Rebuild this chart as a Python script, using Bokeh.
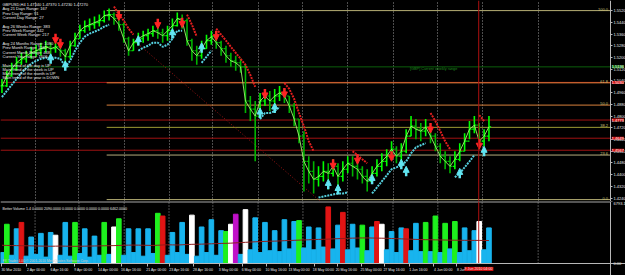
from bokeh.plotting import figure
from bokeh.models import (ColumnDataSource, FixedTicker, Span, Label, Range1d, LinearAxis,
                          Arrow, NormalHead)
from bokeh.layouts import column
from bokeh.embed import file_html
from bokeh.resources import INLINE
from bokeh.core.properties import value

# ---------------- data (GBPUSD, H4) ----------------
close = [1.5006, 1.5074, 1.5123, 1.5164, 1.5191, 1.5212, 1.5232, 1.5246, 1.5260, 1.5273,
         1.5260, 1.5273, 1.5246, 1.5205, 1.5280, 1.5328, 1.5383, 1.5411, 1.5424, 1.5438,
         1.5452, 1.5486, 1.5493, 1.5466, 1.5424, 1.5328, 1.5246, 1.5301, 1.5328, 1.5349,
         1.5363, 1.5383, 1.5369, 1.5349, 1.5383, 1.5417, 1.5466, 1.5452, 1.5315, 1.5246,
         1.5212, 1.5260, 1.5315, 1.5342, 1.5301, 1.5260, 1.5212, 1.5177, 1.5164, 1.5136,
         1.4903, 1.4848, 1.4800, 1.4903, 1.4937, 1.4903, 1.4937, 1.4958, 1.4937, 1.4869,
         1.4780, 1.4663, 1.4491, 1.4423, 1.4368, 1.4388, 1.4423, 1.4409, 1.4457, 1.4388,
         1.4437, 1.4478, 1.4457, 1.4437, 1.4388, 1.4354, 1.4409, 1.4457, 1.4491, 1.4526,
         1.4574, 1.4526, 1.4560, 1.4663, 1.4731, 1.4711, 1.4697, 1.4725, 1.4663, 1.4594,
         1.4526, 1.4491, 1.4457, 1.4505, 1.4560, 1.4629, 1.4711, 1.4738, 1.4629, 1.4663,
         1.4727]
high = [1.5054, 1.5109, 1.5164, 1.5205, 1.5232, 1.5246, 1.5273, 1.5287, 1.5301, 1.5315,
        1.5301, 1.5301, 1.5287, 1.5260, 1.5315, 1.5369, 1.5424, 1.5452, 1.5466, 1.5479,
        1.5493, 1.5520, 1.5534, 1.5507, 1.5466, 1.5438, 1.5342, 1.5328, 1.5369, 1.5383,
        1.5397, 1.5417, 1.5411, 1.5397, 1.5417, 1.5466, 1.5507, 1.5493, 1.5466, 1.5328,
        1.5280, 1.5315, 1.5356, 1.5383, 1.5356, 1.5315, 1.5280, 1.5232, 1.5212, 1.5191,
        1.5150, 1.4937, 1.4903, 1.4958, 1.4985, 1.4972, 1.4985, 1.5006, 1.4985, 1.4937,
        1.4889, 1.4780, 1.4697, 1.4526, 1.4491, 1.4457, 1.4491, 1.4478, 1.4505, 1.4478,
        1.4491, 1.4526, 1.4526, 1.4491, 1.4457, 1.4437, 1.4457, 1.4505, 1.4546, 1.4574,
        1.4629, 1.4594, 1.4615, 1.4711, 1.4800, 1.4780, 1.4752, 1.4780, 1.4731, 1.4683,
        1.4615, 1.4560, 1.4526, 1.4560, 1.4615, 1.4683, 1.4766, 1.4800, 1.4752, 1.4711,
        1.4800]
low = [1.4958, 1.4999, 1.5068, 1.5109, 1.5150, 1.5164, 1.5191, 1.5205, 1.5212, 1.5232,
       1.5212, 1.5232, 1.5205, 1.5143, 1.5191, 1.5273, 1.5328, 1.5369, 1.5383, 1.5397,
       1.5411, 1.5438, 1.5452, 1.5424, 1.5383, 1.5301, 1.5212, 1.5246, 1.5280, 1.5301,
       1.5315, 1.5342, 1.5328, 1.5301, 1.5315, 1.5369, 1.5411, 1.5397, 1.5280, 1.5177,
       1.5150, 1.5191, 1.5260, 1.5287, 1.5260, 1.5212, 1.5164, 1.5136, 1.5109, 1.5095,
       1.4821, 1.4766, 1.4491, 1.4821, 1.4869, 1.4834, 1.4869, 1.4903, 1.4889, 1.4821,
       1.4731, 1.4615, 1.4286, 1.4340, 1.4272, 1.4320, 1.4354, 1.4299, 1.4388, 1.4286,
       1.4354, 1.4409, 1.4388, 1.4368, 1.4340, 1.4286, 1.4340, 1.4388, 1.4423, 1.4457,
       1.4505, 1.4478, 1.4491, 1.4546, 1.4663, 1.4642, 1.4629, 1.4663, 1.4615, 1.4560,
       1.4478, 1.4437, 1.4409, 1.4437, 1.4491, 1.4560, 1.4642, 1.4683, 1.4574, 1.4594,
       1.4629]
N = None
# trailing stop dots: up-trend (cyan) and down-trend (red); N = no dot
sar_up = [1.4930, 1.4972, 1.5013, 1.5054, 1.5095, 1.5129, 1.5157, 1.5177, 1.5191, 1.5198,
          1.5198, 1.5198, 1.5191, 1.5136, 1.5177, 1.5246, 1.5301, 1.5342, 1.5363, 1.5376,
          1.5390, 1.5411, 1.5424, N, N, N, N, N, 1.5246, 1.5266,
          1.5280, 1.5301, 1.5301, 1.5273, 1.5287, 1.5328, 1.5383, 1.5383, N, N,
          N, 1.5164, 1.5205, 1.5246, N, N, N, N, N, N,
          N, N, N, 1.4780, 1.4821, 1.4821, 1.4834, 1.4862, N, N,
          N, N, N, N, N, 1.4244, 1.4251, 1.4258, 1.4265, 1.4272,
          1.4272, 1.4279, N, N, N, N, 1.4272, 1.4313, 1.4354, 1.4395,
          1.4437, 1.4450, 1.4464, 1.4491, 1.4546, 1.4587, 1.4601, 1.4615, N, N,
          N, N, N, 1.4382, 1.4409, 1.4450, 1.4491, 1.4533, N, N,
          1.4546]
sar_dn = [N, N, N, N, N, N, N, N, N, N,
          N, N, N, N, N, N, N, N, N, N,
          N, N, N, 1.5548, 1.5493, 1.5452, 1.5397, 1.5356, N, N,
          N, N, N, N, N, N, N, N, 1.5493, 1.5424,
          1.5342, N, N, N, 1.5397, 1.5356, 1.5315, 1.5273, 1.5232, 1.5191,
          1.5150, 1.5081, 1.4999, N, N, N, N, N, 1.5026, 1.4985,
          1.4917, 1.4821, 1.4731, 1.4629, 1.4560, N, N, N, N, N,
          N, N, 1.4560, 1.4533, 1.4505, 1.4478, N, N, N, N,
          N, N, N, N, N, N, N, N, 1.4821, 1.4766,
          1.4697, 1.4629, 1.4574, N, N, N, N, N, 1.4807, 1.4766,
          N]
dn_arrow_bar = [11, 12, 24, 32, 37, 44, 54, 58, 68, 73, 80, 88, 98]
dn_arrow_price = [1.5328, 1.5294, 1.5486, 1.5431, 1.5438, 1.5349, 1.4951, 1.4958,
                  1.4471, 1.4505, 1.4526, 1.4718, 1.4608]
up_arrow_bar = [10, 13, 28, 35, 41, 53, 56, 67, 69, 76, 82, 83, 94, 99]
up_arrow_price = [1.5191, 1.5143, 1.5315, 1.5363, 1.5266, 1.4821, 1.4855, 1.4334,
                  1.4299, 1.4368, 1.4471, 1.4423, 1.4409, 1.4560]

volume = [1200, 4300, 900, 3800, 4500, 800, 2900, 1000, 3300, 700,
          3400, 3100, 900, 4500, 800, 4500, 1100, 3800, 700, 3000,
          900, 4500, 1000, 4000, 4900, 900, 3800, 1200, 3800, 800,
          3800, 1100, 5500, 5200, 900, 3400, 1200, 4500, 1000, 5300,
          800, 4000, 1200, 4800, 900, 3600, 3500, 4300, 5400, 1000,
          5900, 1500, 5000, 1200, 4500, 1400, 3600, 1300, 4800, 1600,
          4600, 4700, 1700, 4000, 1500, 3900, 1800, 6200, 1600, 4200,
          5600, 1500, 4300, 1700, 4200, 1400, 4000, 4600, 4300, 1500,
          3500, 1200, 3900, 3800, 1400, 4400, 1300, 4500, 1300, 5200,
          1200, 4400, 1600, 4600, 1200, 3900, 1400, 3600, 4600, 1500,
          3900]
vol_special = {1: "g", 4: "r", 11: "w", 15: "g", 21: "g", 23: "w", 24: "g", 32: "g",
               33: "r", 39: "w", 46: "g", 47: "w", 48: "m", 50: "w", 61: "g", 67: "r",
               70: "r", 74: "g", 77: "r", 78: "w", 83: "r", 87: "g", 89: "g", 91: "g",
               93: "g", 98: "w"}
vol_ma = [2000, 1980, 1970, 1960, 1950, 1940, 1930, 1920, 1910, 1900,
          1890, 1900, 1910, 1900, 1890, 1880, 1890, 1900, 1910, 1920,
          1930, 1940, 1950, 1960, 1980, 2000, 2010, 2020, 2010, 2000,
          1990, 1980, 2000, 2030, 2050, 2040, 2030, 2050, 2080, 2100,
          2110, 2120, 2140, 2160, 2180, 2200, 2210, 2230, 2260, 2290,
          2320, 2350, 2380, 2400, 2420, 2440, 2450, 2470, 2500, 2520,
          2540, 2560, 2580, 2600, 2620, 2640, 2650, 2670, 2700, 2720,
          2740, 2760, 2780, 2790, 2800, 2800, 2790, 2780, 2770, 2760,
          2740, 2720, 2700, 2680, 2660, 2640, 2620, 2610, 2600, 2590,
          2580, 2570, 2560, 2550, 2550, 2540, 2540, 2530, 2530, 2520,
          2520]
vol_max = 6793.1

price_ticks = [1.5520, 1.5440, 1.5360, 1.5280, 1.5200, 1.5120, 1.5040, 1.4960, 1.4880,
               1.4800, 1.4720, 1.4640, 1.4560, 1.4480, 1.4400, 1.4320, 1.4240]
fib_names = ["100.0", "61.8", "50.0", "38.2", "23.6", "0.0"]
fib_prices = [1.5520, 1.5027, 1.4875, 1.4723, 1.4534, 1.4230]
fib_start_bar = 21.5
level_prices = [1.5030, 1.4773, 1.4649, 1.4567]
weekly_level = 1.5136
trend_bar = [27, 66]
trend_price = [1.5320, 1.4200]
separator_bars = [6.8, 15.8, 25.1, 34.3, 43.3, 52.6, 61.8, 71.0, 80.3, 89.5, 98.6, 110.1]
now_bar = 97.9
date_start_bars = [0, 5.1, 9.9, 14.8, 19.9, 24.6, 29.8, 34.5, 39.4, 44.6, 49.3, 54.4,
                   59.1, 64.1, 68.8, 73.9, 78.6, 83.6, 88.7, 93.4]
date_labels = ["30 Mar 2010", "2 Apr 00:00", "6 Apr 16:00", "9 Apr 00:00", "14 Apr 00:00",
               "16 Apr 16:00", "21 Apr 00:00", "23 Apr 16:00", "28 Apr 16:00", "3 May 00:00",
               "6 May 00:00", "10 May 16:00", "13 May 00:00", "18 May 00:00", "20 May 16:00",
               "25 May 00:00", "27 May 16:00", "1 Jun 16:00", "4 Jun 00:00", "8 Jun 16:00"]
info_lines = ["GBPUSD,H4  1.47340 1.47370 1.47230 1.47270",
              "Avg 21 Days Range: 167", "Prev Day Range: 91", "Current Day Range: 27", "",
              "Avg 26 Weeks Range: 383", "Prev Week Range: 442", "Current Week Range: 217", "",
              "Avg 24 Months Range: 1080", "Prev Month Range: 1165", "Current Month Range: 448",
              "Current Year range: 1606", "",
              "Main trend of the day is UP", "Main trend of the week is UP",
              "Main trend of the month is UP", "Main trend of the year is DOWN"]

# ---------------- styling ----------------
BG = "black"
FONT = "Liberation Sans"
AXC = "#B8B8B8"
LBL = "#E8E8E8"
PX_PER_BAR = 4.87
X0 = -0.3
x_range = Range1d(X0, X0 + 625 / PX_PER_BAR)
AXIS_X = X0 + 610 / PX_PER_BAR      # price-scale position (x = 610 px)
P_TOP, P_BOT = 1.5589, 1.4217
FH = 201
ARROW_HALF = 0.0034


def style_axis(a, size="4px"):
    a.major_label_text_font = FONT
    a.major_label_text_font_size = size
    a.major_label_text_color = LBL
    a.axis_line_color = AXC
    a.major_tick_line_color = AXC
    a.major_tick_out = 2
    a.major_tick_in = 0
    a.minor_tick_line_color = None
    a.major_label_standoff = 1


p = figure(frame_width=625, frame_height=FH, x_range=x_range, y_range=Range1d(P_BOT, P_TOP),
           output_backend="svg", toolbar_location=None, y_axis_location=None,
           x_axis_location=None, background_fill_color=BG, border_fill_color=BG,
           min_border=0, outline_line_color=None)
p.ygrid.visible = False
p.xgrid.ticker = FixedTicker(ticks=separator_bars)
p.xgrid.grid_line_color = "#9A9A9A"
p.xgrid.grid_line_dash = "1 2"

yax = LinearAxis(fixed_location=AXIS_X, ticker=FixedTicker(ticks=price_ticks),
                 major_label_overrides={t: f"{t:.4f}" for t in price_ticks})
style_axis(yax)
p.add_layout(yax, "right")

# horizontal levels (end at the price scale)
nl = len(level_prices)
p.segment(x0=[X0] * nl, y0=level_prices, x1=[AXIS_X] * nl, y1=level_prices,
          line_color="#A01212", line_width=1)
p.segment(x0=[X0], y0=[weekly_level], x1=[AXIS_X], y1=[weekly_level],
          line_color="#0B5E0B", line_width=1)
fib_colors = ["#B7AF74", "#E0823C", "#D8803C", "#9C9A34", "#B4AC7C", "#B7AF74"]
nf = len(fib_prices)
p.segment(x0=[fib_start_bar] * nf, y0=fib_prices, x1=[AXIS_X] * nf, y1=fib_prices,
          line_color=fib_colors, line_width=1)
p.line(trend_bar, trend_price, line_color="#9A1515", line_dash="1 2", line_width=1)

# price bars
n = len(close)
xs = list(range(n))
opens = [close[0]] + close[:-1]
bar_col = ["#00FF00" if c >= o else "#00B400" for c, o in zip(close, opens)]
src = ColumnDataSource(dict(x=xs, h=high, l=low, o=opens, c=close, col=bar_col,
                            xl=[i - 0.45 for i in xs], xr=[i + 0.45 for i in xs]))
p.segment(x0="x", y0="l", x1="x", y1="h", color="col", line_width=1.6, source=src)
p.segment(x0="xl", y0="o", x1="x", y1="o", color="col", line_width=1.2, source=src)
p.segment(x0="x", y0="c", x1="xr", y1="c", color="col", line_width=1.2, source=src)
p.line(xs, close, line_color="#9BF56A", line_width=1, alpha=0.9)

nan = float("nan")
su = [nan if v is None else v for v in sar_up]
sd = [nan if v is None else v for v in sar_dn]
p.line(xs, su, line_color="#55D0DE", line_width=2, line_dash="2 1")
p.line(xs, sd, line_color="#E01E1E", line_width=2, line_dash="2 1")

# signal arrows
dsrc = ColumnDataSource(dict(x=dn_arrow_bar,
                             y0=[v + ARROW_HALF for v in dn_arrow_price],
                             y1=[v - ARROW_HALF for v in dn_arrow_price]))
p.add_layout(Arrow(end=NormalHead(size=6, fill_color="#FF2424", line_color="#FF2424",
                                  line_width=1),
                   x_start="x", y_start="y0", x_end="x", y_end="y1", source=dsrc,
                   line_color="#FF2424", line_width=2.5))
usrc = ColumnDataSource(dict(x=up_arrow_bar,
                             y0=[v - ARROW_HALF for v in up_arrow_price],
                             y1=[v + ARROW_HALF for v in up_arrow_price]))
p.add_layout(Arrow(end=NormalHead(size=6, fill_color="#62E6F2", line_color="#62E6F2",
                                  line_width=1),
                   x_start="x", y_start="y0", x_end="x", y_end="y1", source=usrc,
                   line_color="#62E6F2", line_width=2.5))

p.add_layout(Span(location=now_bar, dimension="height", line_color="#B01010", line_width=1))

# fib labels
for nm, pr in zip(fib_names, fib_prices):
    p.add_layout(Label(x=AXIS_X - 0.5, y=pr, text=nm,
                       text_font=FONT, text_font_size="4px", text_color="#C8C07A",
                       text_align="right", text_baseline="bottom"))
# price tags on the scale
for pr in level_prices:
    p.add_layout(Label(x=AXIS_X + 0.25, y=pr, text=f"{pr:.4f}",
                       text_font=FONT, text_font_size="4px", text_color="white",
                       text_align="left", text_baseline="middle",
                       background_fill_color="#D01010"))
p.add_layout(Label(x=AXIS_X + 0.25, y=weekly_level, text=f"{weekly_level:.4f}",
                   text_font=FONT, text_font_size="4px", text_color="white",
                   text_align="left", text_baseline="middle",
                   background_fill_color="#127A12"))
p.add_layout(Label(x=83.8, y=weekly_level, text="[GBP] Current weekly range",
                   text_font=FONT, text_font_size="3.8px", text_color="#1E8A1E",
                   text_align="left", text_baseline="top"))

# info text block
line_y = 4.0
for t in info_lines:
    if t:
        p.add_layout(Label(x=2, y=FH - line_y, x_units="screen", y_units="screen", text=t,
                           text_font=FONT, text_font_size="4px", text_color=LBL,
                           text_align="left", text_baseline="middle"))
    line_y += 4.3 if t else 4.4

# ---------------- volume panel ----------------
VH = 74                      # 62 px of histogram + 12 px of time scale
v_bot = -vol_max * 12 / 62
v = figure(frame_width=625, frame_height=VH, x_range=x_range, y_range=Range1d(v_bot, vol_max),
           output_backend="svg", toolbar_location=None, y_axis_location=None,
           x_axis_location=None, background_fill_color=BG, border_fill_color=BG,
           min_border=0, outline_line_color=None)
v.xgrid.visible = False
v.ygrid.visible = False
ns = len(separator_bars)
v.segment(x0=separator_bars, y0=[0] * ns, x1=separator_bars, y1=[vol_max] * ns,
          line_color="#9A9A9A", line_dash="1 2", line_width=1)
v.segment(x0=[X0], y0=[vol_max], x1=[AXIS_X], y1=[vol_max], line_color="#A8A8A8",
          line_width=2)
cmap = {"b": "#18B4EE", "g": "#1EF01E", "r": "#E01414", "w": "#FFFFFF", "m": "#C010C8"}
vcol = [cmap[vol_special.get(i, "b")] for i in xs]
v.vbar(x=xs, top=volume, bottom=0, width=0.95, color=vcol)
v.line(xs, vol_ma, line_color="#8E1C1C", line_width=1)
v.segment(x0=[now_bar], y0=[0], x1=[now_bar], y1=[vol_max], line_color="#B01010",
          line_width=1)

vy = LinearAxis(fixed_location=AXIS_X, ticker=FixedTicker(ticks=[0, vol_max]),
                major_label_overrides={0: "0.00", vol_max: f"{vol_max:.1f}"})
style_axis(vy)
v.add_layout(vy, "right")

centers = [b + 1.9 for b in date_start_bars]
vx = LinearAxis(fixed_location=0, ticker=FixedTicker(ticks=centers, minor_ticks=date_start_bars),
                major_label_overrides={c: lab for c, lab in zip(centers, date_labels)})
style_axis(vx, "3.5px")
vx.major_tick_out = 0
vx.minor_tick_line_color = AXC
vx.minor_tick_out = 3
vx.minor_tick_in = 0
v.add_layout(vx, "below")

v.add_layout(Label(x=2, y=VH - 7, x_units="screen", y_units="screen",
                   text="Better Volume 1.4 0.0000 2090.0000 0.0000 0.0000 0.0000 0.0000 6462.0000",
                   text_font=FONT, text_font_size="3.6px", text_color=LBL,
                   text_align="left", text_baseline="middle"))
v.add_layout(Label(x=2, y=15, x_units="screen", y_units="screen",
                   text="FX Trader 4.00  \u00a9 2001-2010 MetaQuotes Software Corp.",
                   text_font=FONT, text_font_size="3.4px", text_color="#C8C8C8",
                   text_align="left", text_baseline="middle"))
v.add_layout(Label(x=95.0, y=v_bot * 0.45, text="9 Jun 2010 04:00 ",
                   text_font=FONT, text_font_size="3.6px",
                   text_color="#E8E8E8", text_align="left", text_baseline="middle",
                   background_fill_color="#E01010"))

layout = column(p, v, spacing=0, background="black")
open("out.html", "w").write(file_html(layout, INLINE))
